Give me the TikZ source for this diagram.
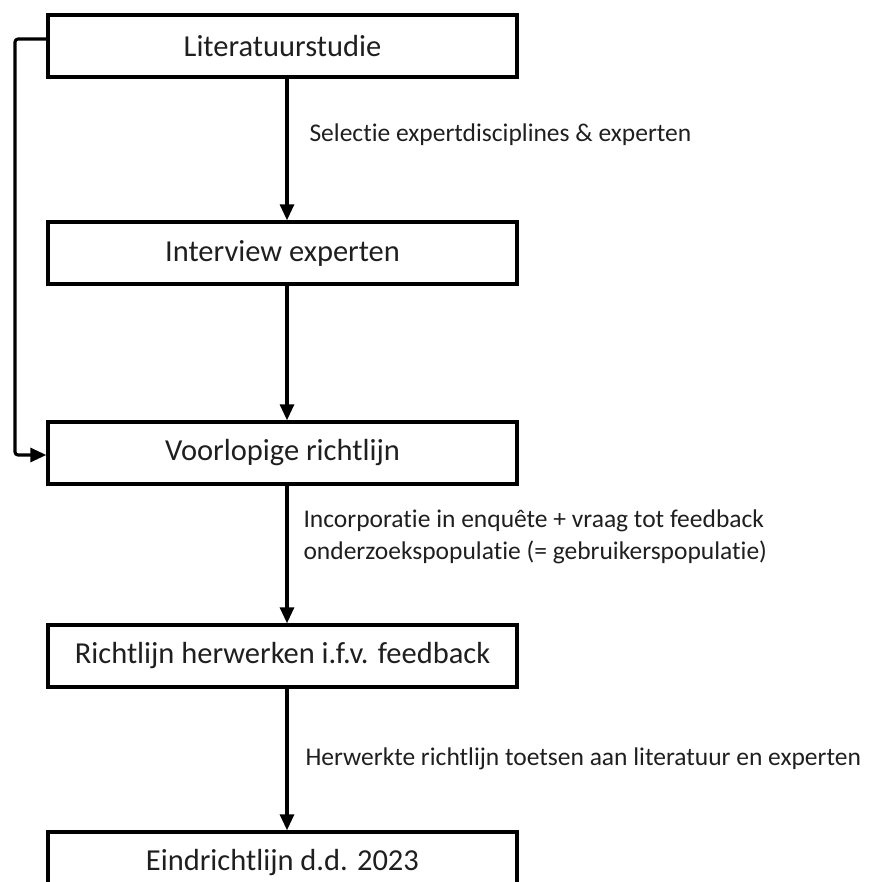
\documentclass[tikz,border=0pt]{standalone}
\usepackage{fontspec}
\setmainfont{Carlito}[Ligatures=NoCommon]
\usetikzlibrary{arrows.meta}
\begin{document}
\begin{tikzpicture}[x=1pt,y=-1pt,
  stepbox/.style={draw, line width=3.4pt, minimum width=469pt, minimum height=62pt, inner sep=0pt, font=\fontsize{30.5}{34}\selectfont, text=black!88},
  conn/.style={line width=3.1pt, -{Triangle[length=16pt,width=14pt]}},
  lbl/.style={anchor=west, font=\fontsize{25.5}{32}\selectfont, align=left, text=black!88}]
\useasboundingbox (0,0) rectangle (876,882);
\node[stepbox] (b1) at (282.5,46) {Literatuurstudie};
\node[stepbox] (b2) at (282.5,253) {Interview experten};
\node[stepbox] (b3) at (282.5,453) {Voorlopige richtlijn};
\node[stepbox] (b4) at (282.5,656) {Richtlijn herwerken i.f.v. feedback};
\node[stepbox] (b5) at (282.5,863) {Eindrichtlijn d.d. 2023};
\draw[conn] ([xshift=4.5pt]b1.south) -- ([xshift=4.5pt]b2.north);
\draw[conn] ([xshift=4.5pt]b2.south) -- ([xshift=4.5pt]b3.north);
\draw[conn] ([xshift=4.5pt]b3.south) -- ([xshift=4.5pt]b4.north);
\draw[conn] ([xshift=4.5pt]b4.south) -- ([xshift=4.5pt]b5.north);
\coordinate (cl) at (15,0);
\draw[conn, rounded corners=3pt] ([yshift=7pt]b1.west) -- ([yshift=7pt]b1.west -| cl) -- ([yshift=-2pt]b3.west -| cl) -- ([yshift=-2pt]b3.west);
\node[lbl] (l1) at (306,135) {Selectie expertdisciplines \& experten};
\node[lbl] (l2) at (300,537) {Incorporatie in enquête + vraag tot feedback\\onderzoekspopulatie (= gebruikerspopulatie)};
\node[lbl] (l3) at (302,759) {Herwerkte richtlijn toetsen aan literatuur en experten};
\end{tikzpicture}
\end{document}
